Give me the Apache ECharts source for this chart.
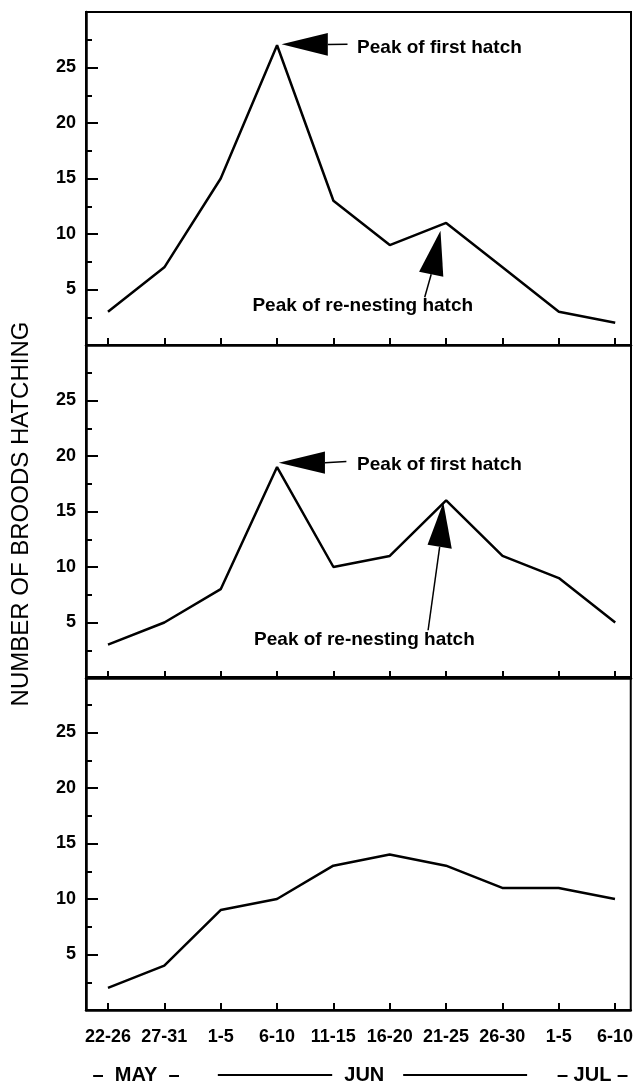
<!DOCTYPE html>
<html>
<head>
<meta charset="utf-8">
<script src="https://cdn.jsdelivr.net/npm/echarts@6/dist/echarts.min.js"></script>
<style>
    html, body {margin: 0; padding: 0; background: #fff;}
    #chart {width: 636px; height: 1086px;}
</style>
</head>
<body>
<div id="chart"></div>
<script>
// five-day periods, 22 May - 10 Jul
const periods = ['22-26', '27-31', '1-5', '6-10', '11-15', '16-20', '21-25', '26-30', '1-5', '6-10'];
const broodsTop = [3, 7, 15, 27, 13, 9, 11, 7, 3, 2];
const broodsMid = [3, 5, 8, 19, 10, 11, 16, 11, 9, 5];
const broodsBottom = [2, 4, 9, 10, 13, 14, 13, 11, 11, 10];
const yTicks = [5, 10, 15, 20, 25];
const months = ['\u2013  MAY  \u2013', 'JUN', '\u2013 JUL \u2013'];
const monthCenters = [0.5, 4.55, 8.6];
const juneDashes = [[1.95, 3.98], [5.24, 7.44]];

// arrow notes, in data units of each panel
const notes = [
    {panel: 0, tip: [3.08, 27.1], base: [[3.9, 28.1], [3.9, 26.05]], tail: [4.25, 27.1],
        text: 'Peak of first hatch', at: [4.42, 26.8], align: 'left'},
    {panel: 0, tip: [5.9, 10.3], base: [[5.52, 6.6], [5.95, 6.15]], tail: [5.62, 4.3],
        text: 'Peak of re-nesting hatch', at: [4.52, 3.5], align: 'center'},
    {panel: 1, tip: [3.03, 19.4], base: [[3.85, 20.4], [3.85, 18.4]], tail: [4.23, 19.5],
        text: 'Peak of first hatch', at: [4.42, 19.2], align: 'left'},
    {panel: 1, tip: [5.95, 15.8], base: [[5.67, 12.0], [6.1, 11.64]], tail: [5.68, 4.3],
        text: 'Peak of re-nesting hatch', at: [4.55, 3.4], align: 'center'}
];

const FONT = '"Liberation Sans", Arial, sans-serif';
const panels = [broodsTop, broodsMid, broodsBottom];
const gridTops = [12, 345, 677];
const tickIdx = periods.map((p, i) => i);

const chart = echarts.init(document.getElementById('chart'), null, {renderer: 'canvas'});

const option = {
    animation: false,
    backgroundColor: '#fff',
    grid: gridTops.map(top => ({
        left: 86, right: 5, top: top, height: 333,
        show: true, borderColor: '#000', borderWidth: 2
    })),
    xAxis: panels.map((d, i) => ({
        type: 'value', gridIndex: i, min: -0.39, max: 9.28,
        axisLine: {show: true, onZero: false, lineStyle: {color: '#000', width: 2.5}},
        axisTick: {show: true, inside: true, length: 7, customValues: tickIdx,
            lineStyle: {color: '#000', width: 2}},
        axisLabel: {show: i === 2, customValues: tickIdx, formatter: v => periods[v],
            color: '#000', fontWeight: 'bold', fontSize: 18, fontFamily: FONT, margin: 18},
        splitLine: {show: false}
    })),
    yAxis: panels.map((d, i) => ({
        type: 'value', gridIndex: i, min: 0, max: 30, interval: 5,
        axisLine: {show: true, onZero: false, lineStyle: {color: '#000', width: 2.5}},
        axisTick: {inside: true, length: 12, lineStyle: {color: '#000', width: 2}},
        minorTick: {show: true, splitNumber: 2, length: 6, lineStyle: {color: '#000', width: 2}},
        axisLabel: {customValues: yTicks, color: '#000', fontWeight: 'bold', fontSize: 18,
            fontFamily: FONT, margin: 10},
        splitLine: {show: false}
    })),
    series: panels.map((d, i) => ({
        type: 'line', xAxisIndex: i, yAxisIndex: i,
        data: d.map((v, k) => [k, v]),
        showSymbol: false, silent: true,
        lineStyle: {color: '#000', width: 2.5}
    }))
};
chart.setOption(option);

// annotations, month row and axis title
const px = (panel, pt) => chart.convertToPixel({gridIndex: panel}, pt);
const graphics = [];
notes.forEach(n => {
    const tip = px(n.panel, n.tip);
    const b1 = px(n.panel, n.base[0]);
    const b2 = px(n.panel, n.base[1]);
    const tail = px(n.panel, n.tail);
    const mid = [(b1[0] + b2[0]) / 2, (b1[1] + b2[1]) / 2];
    const at = px(n.panel, n.at);
    graphics.push({type: 'polygon', shape: {points: [tip, b1, b2]}, style: {fill: '#000'}, silent: true});
    graphics.push({type: 'line', shape: {x1: mid[0], y1: mid[1], x2: tail[0], y2: tail[1]},
        style: {stroke: '#000', lineWidth: 1.5}, silent: true});
    graphics.push({type: 'text', x: at[0], y: at[1], silent: true,
        style: {text: n.text, font: 'bold 19px ' + FONT, fill: '#000', align: n.align, verticalAlign: 'middle'}});
});

const monthY = 1075;
months.forEach((m, i) => {
    const x = chart.convertToPixel({xAxisIndex: 2}, monthCenters[i]);
    graphics.push({type: 'text', x: x, y: monthY, silent: true,
        style: {text: m, font: 'bold 20px ' + FONT, fill: '#000', align: 'center', verticalAlign: 'middle'}});
});
juneDashes.forEach(([a, b]) => {
    const x1 = chart.convertToPixel({xAxisIndex: 2}, a);
    const x2 = chart.convertToPixel({xAxisIndex: 2}, b);
    graphics.push({type: 'line', shape: {x1: x1, y1: monthY, x2: x2, y2: monthY},
        style: {stroke: '#000', lineWidth: 2}, silent: true});
});

graphics.push({type: 'text', x: 21, y: 514, rotation: Math.PI / 2, silent: true,
    style: {text: 'NUMBER OF BROODS HATCHING', font: '24px ' + FONT, fill: '#000',
        align: 'center', verticalAlign: 'middle'}});

chart.setOption({graphic: graphics});

window.addEventListener('resize', () => chart.resize());
</script>
</body>
</html>
